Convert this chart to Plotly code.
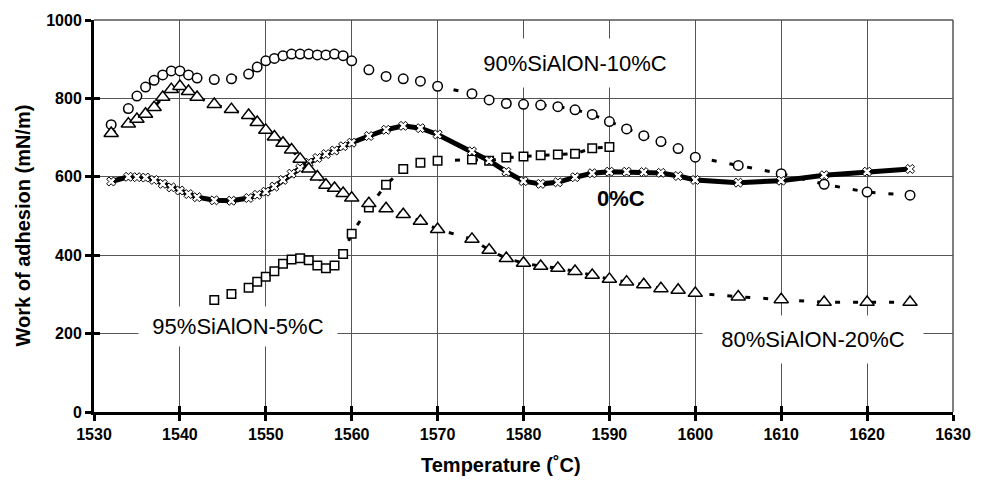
import plotly.graph_objects as go

temps = [1532, 1534, 1535, 1536, 1537, 1538, 1539, 1540, 1541, 1542,
         1544, 1546, 1548, 1549, 1550, 1551, 1552, 1553, 1554, 1555,
         1556, 1557, 1558, 1559, 1560, 1562, 1564, 1566, 1568, 1570,
         1574, 1576, 1578, 1580, 1582, 1584, 1586, 1588, 1590, 1592,
         1594, 1596, 1598, 1600, 1605, 1610, 1615, 1620, 1625]

sialon90_c10 = [733, 774, 806, 829, 846, 860, 870, 870, 860, 852,
                848, 850, 862, 880, 896, 902, 909, 913, 913, 913,
                911, 911, 913, 909, 896, 873, 856, 850, 844, 831,
                812, 796, 787, 785, 783, 779, 771, 759, 741, 722,
                705, 690, 672, 650, 629, 608, 581, 561, 553]

sialon80_c20 = [711, 735, 747, 760, 777, 803, 823, 831, 818, 803,
                785, 772, 757, 739, 719, 702, 686, 669, 645, 620,
                600, 579, 571, 558, 546, 532, 519, 504, 487, 466,
                441, 413, 392, 380, 372, 367, 359, 349, 339, 332,
                325, 315, 311, 303, 294, 287, 280, 280, 280]

c0 = [588, 600, 599, 598, 592, 582, 573, 565, 556, 548,
      540, 539, 546, 554, 562, 575, 592, 608, 622, 636,
      648, 658, 667, 678, 687, 704, 720, 730, 724, 708,
      665, 641, 613, 589, 582, 586, 599, 609, 613, 613,
      612, 610, 602, 592, 585, 590, 604, 613, 620]

sialon95_c5 = [None, None, None, None, None, None, None, None, None, None,
               286, 301, 317, 332, 345, 359, 378, 389, 392, 387,
               374, 367, 374, 403, 455, 522, 580, 620, 636, 641,
               644, 641, 649, 652, 655, 657, 659, 673, 676, None,
               None, None, None, None, None, None, None, None, None]

x_ticks = [1530, 1540, 1550, 1560, 1570, 1580, 1590, 1600, 1610, 1620, 1630]
y_ticks = [0, 200, 400, 600, 800, 1000]

FONT = "Liberation Sans, Arial, sans-serif"
DASH = "5px,13px"
GRID = "#555555"

fig = go.Figure()

fig.add_trace(go.Scatter(
    x=temps, y=sialon90_c10, mode="lines+markers", name="90%SiAlON-10%C",
    line=dict(color="black", width=3, dash=DASH),
    marker=dict(symbol="circle", size=9.5, color="white",
                line=dict(color="black", width=1.5)),
))
fig.add_trace(go.Scatter(
    x=temps, y=sialon95_c5, mode="lines+markers", name="95%SiAlON-5%C",
    line=dict(color="black", width=3, dash=DASH),
    marker=dict(symbol="square", size=8.5, color="white",
                line=dict(color="black", width=1.5)),
))
fig.add_trace(go.Scatter(
    x=temps, y=c0, mode="lines+markers", name="0%C",
    line=dict(color="black", width=5),
    marker=dict(symbol="x", size=8, color="white",
                line=dict(color="black", width=1)),
))
fig.add_trace(go.Scatter(
    x=temps, y=sialon80_c20, mode="lines+markers", name="80%SiAlON-20%C",
    line=dict(color="black", width=3, dash=DASH),
    marker=dict(symbol="triangle-up", size=12.5, color="white",
                line=dict(color="black", width=1.5)),
))
# invisible copy on overlay axes (used only to draw inner half of ticks)
fig.add_trace(go.Scatter(
    x=temps, y=c0, xaxis="x2", yaxis="y2", mode="markers",
    marker=dict(opacity=0), hoverinfo="skip", showlegend=False,
))

axis_common = dict(showline=True, linecolor="black", linewidth=3,
                   ticks="outside", ticklen=6, tickwidth=3, tickcolor="black",
                   showgrid=True, gridcolor=GRID, gridwidth=1,
                   zeroline=False,
                   tickfont=dict(family=FONT, size=16, color="black"))

fig.update_layout(
    width=983, height=488,
    margin=dict(l=94, r=21, t=14, b=76),
    paper_bgcolor="white", plot_bgcolor="white",
    showlegend=False,
    xaxis=dict(range=[1530, 1630], tickvals=x_ticks,
               ticktext=[f"<b>{v}</b>" for v in x_ticks], **axis_common),
    yaxis=dict(range=[0, 1000], tickvals=y_ticks,
               ticktext=[f"<b>{v}</b>" for v in y_ticks], **axis_common),
    xaxis2=dict(range=[1530, 1630], tickvals=x_ticks, overlaying="x",
                anchor="y", side="bottom", ticks="inside", ticklen=6,
                tickwidth=3, tickcolor="black", showticklabels=False,
                showgrid=False, showline=False, zeroline=False),
    yaxis2=dict(range=[0, 1000], tickvals=y_ticks, overlaying="y",
                anchor="x", side="left", ticks="inside", ticklen=6,
                tickwidth=3, tickcolor="black", showticklabels=False,
                showgrid=False, showline=False, zeroline=False),
    shapes=[
        dict(type="line", xref="paper", yref="paper", x0=0, x1=1, y0=1, y1=1,
             line=dict(color=GRID, width=1.5)),
        dict(type="line", xref="paper", yref="paper", x0=1, x1=1, y0=0, y1=1,
             line=dict(color=GRID, width=1.5)),
    ],
)

label_font = dict(family=FONT, size=22, color="black")
fig.add_annotation(x=1586.0, y=890, text="90%SiAlON-10%C", showarrow=False,
                   font=label_font, bgcolor="white", width=220, height=46)
fig.add_annotation(x=1546.8, y=219, text="95%SiAlON-5%C", showarrow=False,
                   font=label_font, bgcolor="white", width=196, height=37)
fig.add_annotation(x=1613.7, y=186, text="80%SiAlON-20%C", showarrow=False,
                   font=label_font, bgcolor="white", width=218, height=45)
fig.add_annotation(x=1591.3, y=545, text="<b>0%C</b>", showarrow=False,
                   font=dict(family=FONT, size=22, color="black"))

fig.add_annotation(xref="paper", yref="paper", x=-0.083, y=0.475,
                   xanchor="center", yanchor="middle",
                   text="<b>Work of adhesion (mN/m)</b>", textangle=-90,
                   showarrow=False,
                   font=dict(family=FONT, size=20, color="black"))
fig.add_annotation(xref="paper", yref="paper", x=0.4735, y=-0.136,
                   xanchor="center", yanchor="middle",
                   text="<b>Temperature (˚C)</b>", showarrow=False,
                   font=dict(family=FONT, size=20, color="black"))

fig.write_html("out.html")
